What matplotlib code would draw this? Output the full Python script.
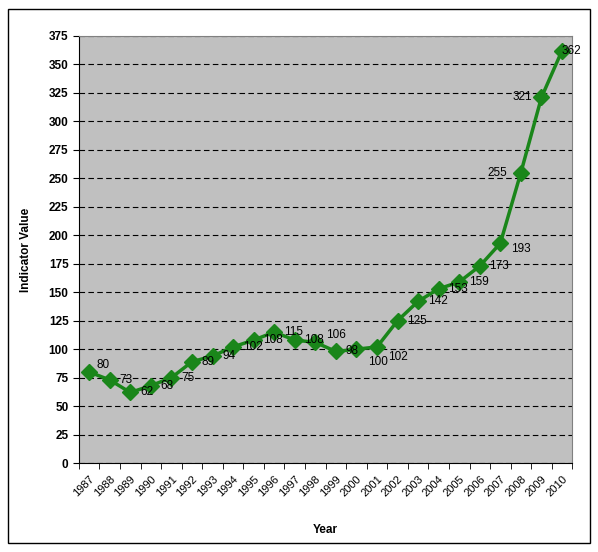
import numpy as np
import matplotlib
matplotlib.use("Agg")
import matplotlib.pyplot as plt
from matplotlib.patches import Rectangle

plt.rcParams['font.family'] = ['Liberation Sans', 'DejaVu Sans']

years = [str(y) for y in range(1987, 2011)]
values = [80, 73, 62, 68, 75, 89, 94, 102, 108, 115, 108, 106,
          98, 100, 102, 125, 142, 153, 159, 173, 193, 255, 321, 362]

# label offsets in points (dx, dy) - most sit to the right of the point
offsets = {0: (5, 5), 11: (8, 5), 13: (8, -9), 14: (8, -7), 20: (8, -4),
           21: (-10, 0), 22: (-7, 0), 23: (0, 0)}

fig = plt.figure(figsize=(5.98, 5.52), dpi=100)
ax = fig.add_axes([0.132, 0.161, 0.825, 0.774])
fig.patches.append(Rectangle((8/598, 9/552), 582/598, 534/552, transform=fig.transFigure,
                             fill=False, edgecolor='black', linewidth=1.0))

ax.set_facecolor('#C0C0C0')
x = np.arange(len(years))
ax.plot(x, values, color='#1A861A', linewidth=2.5, marker='D', markersize=8.5,
        markerfacecolor='#1A861A', markeredgecolor='#1A861A', zorder=3)

for i, v in enumerate(values):
    dx, dy = offsets.get(i, (7, 0))
    ax.annotate(str(v), (i, v), xytext=(dx, dy), textcoords='offset points',
                ha='right' if dx < 0 else 'left', va='center', fontsize=8.5, zorder=4)

ax.set_xlim(-0.5, len(years) - 0.5)
ax.set_ylim(0, 375)
ax.set_yticks(np.arange(0, 376, 25))
ax.yaxis.grid(True, color='black', linestyle=(0, (5, 3)), linewidth=0.8)
ax.set_axisbelow(True)

ax.set_xticks(x)
ax.set_xticklabels(years, rotation=45, ha='right', rotation_mode='anchor', fontsize=8)
ax.set_xticks(np.arange(-0.5, len(years)), minor=True)
ax.tick_params(axis='x', which='major', length=0, pad=8)
ax.tick_params(axis='x', which='minor', length=4, direction='out', color='black')
ax.tick_params(axis='y', length=4, direction='out', labelsize=8.5)
for t in ax.get_yticklabels():
    t.set_fontweight('bold')

for side in ['top', 'right']:
    ax.spines[side].set_color('#808080')
    ax.spines[side].set_linewidth(0.8)
ax.spines['left'].set_color('black')
ax.spines['bottom'].set_color('black')

ax.set_xlabel('Year', fontsize=8.5, fontweight='bold', labelpad=18)
ax.set_ylabel('Indicator Value', fontsize=8.5, fontweight='bold', labelpad=12)

fig.savefig('out.png', dpi=100)
